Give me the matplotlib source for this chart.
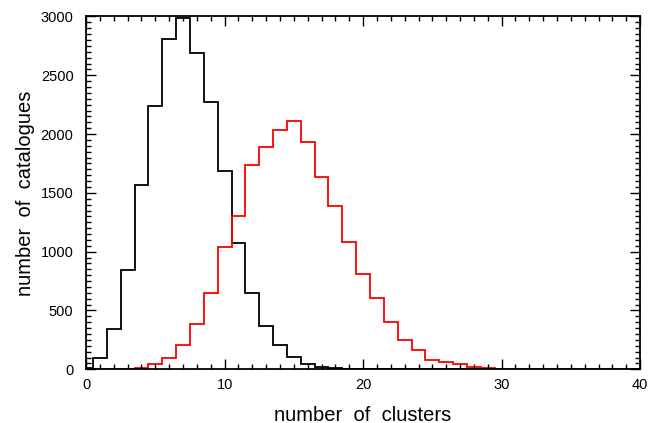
import matplotlib
matplotlib.use("Agg")
import matplotlib.pyplot as plt
import numpy as np
from matplotlib.ticker import MultipleLocator

# counts per number of clusters (bins centred on integers 0..40)
black_counts = [10, 100, 340, 845, 1570, 2238, 2811, 2988, 2686, 2277,
                1682, 1070, 652, 372, 205, 102, 45, 17, 8, 3,
                0, 0, 0, 0, 0, 0, 0, 0, 0, 0,
                0, 0, 0, 0, 0, 0, 0, 0, 0, 0, 0]
red_counts = [0, 0, 2, 5, 14, 42, 94, 210, 385, 645,
              1042, 1305, 1741, 1892, 2036, 2111, 1929, 1637, 1390, 1083,
              811, 609, 400, 245, 165, 78, 65, 45, 22, 8,
              3, 2, 1, 0, 0, 0, 0, 0, 0, 0, 0]
edges = np.arange(len(black_counts) + 1) - 0.5

plt.rcParams['font.family'] = ['Liberation Sans', 'DejaVu Sans']

fig = plt.figure(figsize=(6.62, 4.23), dpi=100)
ax = fig.add_axes([0.130, 0.127, 0.837, 0.834])

ax.stairs(black_counts, edges, color='black', lw=1.3)
ax.stairs(red_counts, edges, color='red', lw=1.3)

ax.set_xlim(0, 40)
ax.set_ylim(0, 3000)
ax.xaxis.set_major_locator(MultipleLocator(10))
ax.xaxis.set_minor_locator(MultipleLocator(1))
ax.yaxis.set_major_locator(MultipleLocator(500))
ax.yaxis.set_minor_locator(MultipleLocator(50))
ax.tick_params(which='both', direction='in', top=True, right=True,
               labelsize=10.5, width=1.0)
ax.tick_params(which='major', length=7, pad=6)
ax.tick_params(which='minor', length=3.5)
ax.tick_params(axis='y', which='major', pad=9)
for s in ax.spines.values():
    s.set_linewidth(1.3)

ax.set_xlabel('number  of  clusters', fontsize=14.5, labelpad=10)
ax.set_ylabel('number  of  catalogues', fontsize=14.5, labelpad=4)

fig.savefig("out.png")
